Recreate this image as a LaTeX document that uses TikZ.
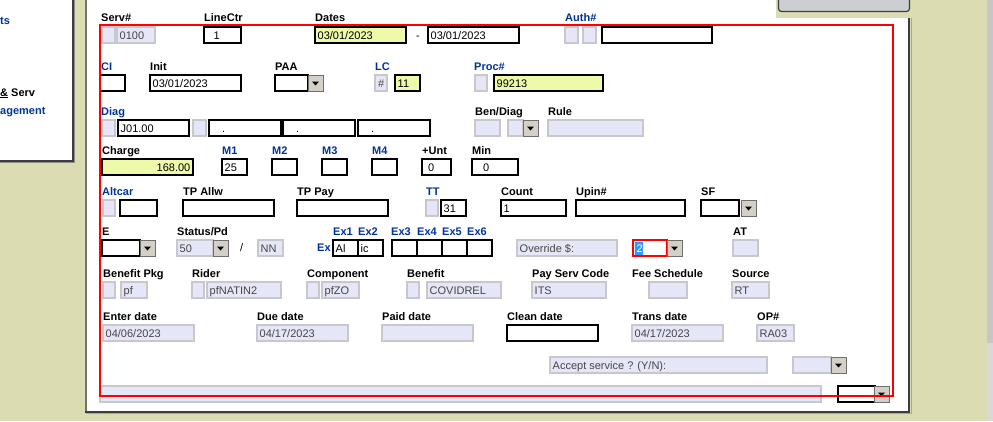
\documentclass[tikz,border=0pt]{standalone}
\usepackage{fontspec}
\setmainfont{Liberation Sans}
\definecolor{beige}{RGB}{220,220,178}
\definecolor{lav}{RGB}{230,230,249}
\definecolor{lavb}{RGB}{200,200,204}
\definecolor{yel}{RGB}{238,250,170}
\definecolor{lblue}{RGB}{0,51,153}
\definecolor{ftxt}{RGB}{70,70,70}
\definecolor{btng}{RGB}{212,208,200}
\definecolor{btnd}{RGB}{110,110,110}
\definecolor{panelgray}{RGB}{205,206,210}
\definecolor{edge}{RGB}{60,60,60}
\definecolor{selblue}{RGB}{51,153,255}
\newcommand\fs{\fontsize{11}{13}\selectfont}
\newcommand\fsb{\fontsize{11}{13}\selectfont\bfseries}
\tikzset{
  fbox/.style={draw, line width=1.2pt, minimum height=16pt, inner sep=0pt, outer sep=0pt, anchor=north west},
  wbox/.style={fbox, fill=white, draw=black},
  lbox/.style={fbox, fill=lav, draw=lavb},
  ybox/.style={fbox, fill=yel, draw=black},
  ftext/.style={anchor=base west, inner sep=0pt, font=\fs},
  lbl/.style={anchor=base west, inner sep=0pt, font=\fsb},
  blbl/.style={lbl, text=lblue},
  btn/.style={draw=btnd, fill=btng, line width=1pt, minimum width=15pt, minimum height=16pt, inner sep=0pt, outer sep=0pt, anchor=north west},
}
\newcommand\fieldbox[7]{%
  \node[#1, minimum width=#5pt] (#3) at (#4) {};
  \node[ftext, text=#2] (#3t) at ([shift={(#7pt,-12.3pt)}]#3.north west) {#6};}
\newcommand\wf[5][2.5]{\fieldbox{wbox}{black}{#2}{#3}{#4}{#5}{#1}}
\newcommand\lf[5][2.5]{\fieldbox{lbox}{ftxt}{#2}{#3}{#4}{#5}{#1}}
\newcommand\yf[5][2.5]{\fieldbox{ybox}{black}{#2}{#3}{#4}{#5}{#1}}
\newcommand\ddbtn[2]{%
  \node[btn] (#1) at (#2) {};
  \fill (#1.center) ++(-3.5pt,1.5pt) -- ++(7pt,0pt) -- ++(-3.5pt,-4pt) -- cycle;}
\begin{document}
\begin{tikzpicture}[x=1pt,y=-1pt]
\useasboundingbox (0,0) rectangle (993,421);
\clip (0,0) rectangle (993,421);
\fill[beige] (0,0) rectangle (993,421);
% scrollbar strip
\fill[black!22] (987,0) rectangle (993,343);
\fill[black!15] (987,343) rectangle (993,421);
% left panel
\fill[white] (-2,-2) rectangle (72.5,159.5);
\draw[edge, line width=2pt] (73,-2) -- (73,160.5) -- (-2,160.5);
\draw[black!45, line width=1pt] (74.5,-2) -- (74.5,162) -- (-2,162);
\node[blbl] (navts) at (0,24) {ts};
\node[lbl] (navserv) at (0,96) {\underline{\&} Serv};
\node[blbl] (navmgmt) at (0,114) {agement};
% main panel
\fill[white] (86,-2) rectangle (909,411);
\draw[black!55, line width=1.5pt] (86,-2) -- (86,412);
\draw[edge, line width=2pt] (909,18) -- (909,411.5) -- (85,411.5);
\draw[black!35, line width=1pt] (911,18) -- (911,413.5) -- (86,413.5);
\fill[beige] (776,-2) rectangle (987,18);
\draw[edge, line width=1.2pt, fill=panelgray, rounded corners=3pt] (778.5,-6) rectangle (909.5,11.5);

% ---------- row 1
\node[lbl] (lserv) at (101,21) {Serv\#};
\node[lbl] (lline) at (204,21) {LineCtr};
\node[lbl] (ldates) at (315,21) {Dates};
\node[blbl] (lauth) at (565,21) {Auth\#};
\lf{s1a}{102,27}{13}{}
\lf{serv}{117,27}{38}{0100}
\wf[9.5]{line}{204,27}{37}{1}
\yf{date1}{315,27}{91}{03/01/2023}
\node[ftext] (dash) at (416,39.3) {-};
\wf{date2}{428,27}{91}{03/01/2023}
\lf{auth1}{565,27}{13}{}
\lf{auth2}{583,27}{13}{}
\wf{auth3}{602,27}{110}{}

% ---------- row 2
\node[blbl] (lci) at (101,70) {CI};
\node[lbl] (linit) at (150,70) {Init};
\node[lbl] (lpaa) at (275,70) {PAA};
\node[blbl] (llc) at (375,70) {LC};
\node[blbl] (lproc) at (474,70) {Proc\#};
\wf{ci}{100,75}{25}{}
\wf{init}{150,75}{91}{03/01/2023}
\wf{paa}{275,75}{33}{}
\ddbtn{paab}{308,75}
\lf[3]{lchash}{375,75}{12}{\#}
\yf{lc}{395,75}{25}{11}
\lf{procl}{475,75}{12}{}
\yf{proc}{494,75}{109}{99213}

% ---------- row 3
\node[blbl] (ldiag) at (101,115) {Diag};
\node[lbl] (lbendiag) at (475,115) {Ben/Diag};
\node[lbl] (lrule) at (548,115) {Rule};
\lf{dl1}{102,120}{13}{}
\wf{dg1}{118,120}{71}{J01.00}
\lf{dl2}{193,120}{13}{}
\wf[13]{dg2}{209,120}{72}{.}
\wf[13]{dg3}{283,120}{72}{.}
\wf[13]{dg4}{358,120}{72}{.}
\lf{bd1}{475,120}{25}{}
\lf{bd2}{508,120}{15}{}
\ddbtn{bdb}{523,120}
\lf{rule}{548,120}{95}{}

% ---------- row 4
\node[lbl] (lcharge) at (102,154) {Charge};
\node[blbl] (lm1) at (222,154) {M1};
\node[blbl] (lm2) at (272,154) {M2};
\node[blbl] (lm3) at (322,154) {M3};
\node[blbl] (lm4) at (372,154) {M4};
\node[lbl] (lunt) at (422,154) {+Unt};
\node[lbl] (lmin) at (472,154) {Min};
\yf[54.5]{charge}{102,159}{91}{168.00}
\wf{m1}{222,159}{25}{25}
\wf{m2}{272,159}{25}{}
\wf{m3}{322,159}{25}{}
\wf{m4}{372,159}{25}{}
\wf[6]{unt}{422,159}{29}{0}
\wf[11]{min}{472,159}{46}{0}

% ---------- row 5
\node[blbl] (laltcar) at (102,195) {Altcar};
\node[lbl] (ltpallw) at (183,195) {TP Allw};
\node[lbl] (ltppay) at (297,195) {TP Pay};
\node[blbl] (ltt) at (426,195) {TT};
\node[lbl] (lcount) at (501,195) {Count};
\node[lbl] (lupin) at (576,195) {Upin\#};
\node[lbl] (lsf) at (701,195) {SF};
\lf{alt1}{103,200}{12}{}
\wf{alt}{120,200}{37}{}
\wf{tpallw}{183,200}{91}{}
\wf{tppay}{297,200}{91}{}
\lf{tt1}{426,200}{12}{}
\wf{tt}{441,200}{25}{31}
\wf{count}{501,200}{65}{1}
\wf{upin}{576,200}{109}{}
\wf{sf}{701,200}{38}{}
\ddbtn{sfb}{741,200}

% ---------- row 6
\node[lbl] (le) at (102,235) {E};
\node[lbl] (lstatus) at (177,235) {Status/Pd};
\node[blbl] (lex1) at (333,235) {Ex1};
\node[blbl] (lex2) at (358,235) {Ex2};
\node[blbl] (lex3) at (391,235) {Ex3};
\node[blbl] (lex4) at (417,235) {Ex4};
\node[blbl] (lex5) at (442,235) {Ex5};
\node[blbl] (lex6) at (467,235) {Ex6};
\node[lbl] (lat) at (733,235) {AT};
\wf{e}{102,240}{38}{}
\ddbtn{eb}{140,240}
\lf{status}{177,240}{36}{50}
\ddbtn{statusb}{213,240}
\node[ftext] (slash) at (240,251.5) {/};
\lf{nn}{258,240}{25}{NN}
\node[blbl] (lex) at (317,251.5) {Ex};
\wf{ex1}{333,240}{25}{Al}
\wf{ex2}{358,240}{25}{ic}
\wf{ex3}{392,240}{25}{}
\wf{ex4}{417,240}{25}{}
\wf{ex5}{442,240}{25}{}
\wf{ex6}{467,240}{25}{}
\lf{ovr}{517,240}{100}{Override \$:}
\node[fbox, fill=white, draw=red, line width=2pt, minimum width=34pt] (ovsel) at (633,240) {};
\fill[selblue] (635,242) rectangle (643,255);
\node[ftext, text=white] (ovselt) at (636.5,252.3) {2};
\ddbtn{ovb}{667,240}
\lf{at}{733,240}{25}{}

% ---------- row 7
\node[lbl] (lbpkg) at (103,277) {Benefit Pkg};
\node[lbl] (lrider) at (192,277) {Rider};
\node[lbl] (lcomp) at (307,277) {Component};
\node[lbl] (lben) at (407,277) {Benefit};
\node[lbl] (lpsc) at (532,277) {Pay Serv Code};
\node[lbl] (lfee) at (632,277) {Fee Schedule};
\node[lbl] (lsrc) at (732,277) {Source};
\lf{bp1}{103,282}{12}{}
\lf{bp}{121,282}{26}{pf}
\lf{rd1}{192,282}{12}{}
\lf{rd}{207,282}{74}{pfNATIN2}
\lf{cp1}{307,282}{12}{}
\lf{cp}{322,282}{37}{pfZO}
\lf{bn1}{407,282}{12}{}
\lf{bn}{427,282}{74}{COVIDREL}
\lf{psc}{532,282}{74}{ITS}
\lf{fee}{649,282}{38}{}
\lf{src}{732,282}{37}{RT}

% ---------- row 8
\node[lbl] (lenter) at (103,320) {Enter date};
\node[lbl] (ldue) at (257,320) {Due date};
\node[lbl] (lpaid) at (382,320) {Paid date};
\node[lbl] (lclean) at (507,320) {Clean date};
\node[lbl] (ltrans) at (632,320) {Trans date};
\node[lbl] (lop) at (757,320) {OP\#};
\lf{enter}{103,325}{91}{04/06/2023}
\lf{due}{257,325}{91}{04/17/2023}
\lf{paid}{382,325}{91}{}
\wf{clean}{507,325}{91}{}
\lf{trans}{632,325}{91}{04/17/2023}
\lf{op}{757,325}{37}{RA03}

% ---------- row 9
\lf{accept}{550,357}{217}{Accept service ? (Y/N):}
\lf{acceptd}{793,357}{38}{}
\ddbtn{acceptb}{831,357}

% ---------- row 10
\lf{bar}{100,386}{721}{}
\wf{bottomdd}{838,386}{37}{}
\ddbtn{bottomb}{874,386}

% red highlight frame
\draw[red, line width=2pt] (100,25) rectangle (893,396);
\end{tikzpicture}
\end{document}
